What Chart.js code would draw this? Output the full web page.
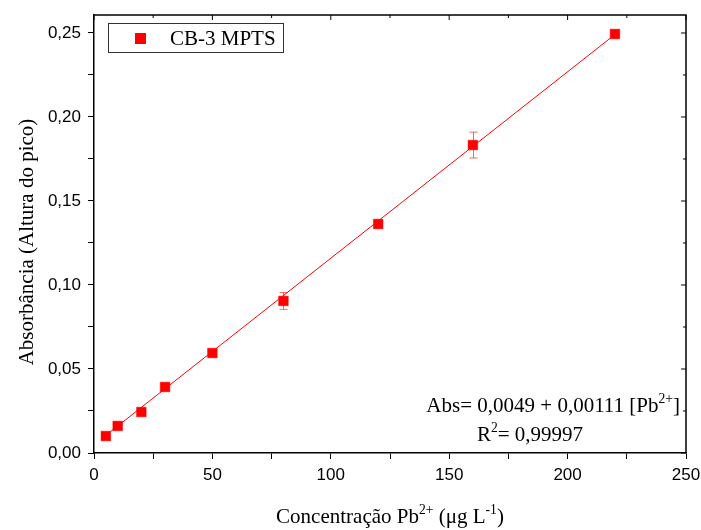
<!DOCTYPE html>
<html>
<head>
<meta charset="utf-8">
<script src="https://cdn.jsdelivr.net/npm/chart.js@4.4.1/dist/chart.umd.min.js"></script>
<style>
  body { margin:0; background:#fff; }
  #wrap { width:701px; height:530px; }
</style>
</head>
<body>
<div id="wrap"><canvas id="calib" width="701" height="530"></canvas></div>
<script>
// calibration data
const concentration = [5, 10, 20, 30, 50, 80, 120, 160, 220];
const absorbance = [0.0101, 0.0161, 0.0244, 0.0393, 0.0595, 0.0905, 0.1363, 0.1833, 0.2494];
const absError = [0.0006, 0.0008, 0.0010, 0.0010, 0.0010, 0.0050, 0.0010, 0.0077, 0.0008];
const fitX = [5, 220];
const fitY = [0.0105, 0.2491];
const seriesName = "CB-3 MPTS";
const equationText = [["Abs= 0,0049 + 0,00111 [Pb", false], ["2+", true], ["]", false]];
const r2Text = [["R", false], ["2", true], ["= 0,99997", false]];
const xTitle = [["Concentração Pb", false], ["2+", true], [" (μg L", false], ["-1", true], [")", false]];
const yTitle = "Absorbância (Altura do pico)";

const RED = "#ff0000";
const SERIF = "'Liberation Serif', 'Times New Roman', serif";
const SANS = "'Liberation Sans', Arial, sans-serif";
const TXT = 21;

// text with superscript pieces
function richWidth(ctx, parts, size) {
  let w = 0;
  parts.forEach(([t, sup]) => {
    ctx.font = (sup ? size * 0.65 : size) + "px " + SERIF;
    w += ctx.measureText(t).width;
  });
  return w;
}
function drawRich(ctx, parts, x, y, size, align) {
  let w = richWidth(ctx, parts, size);
  let cx = align === "right" ? x - w : align === "center" ? x - w / 2 : x;
  ctx.textAlign = "left";
  ctx.textBaseline = "alphabetic";
  parts.forEach(([t, sup]) => {
    ctx.font = (sup ? size * 0.65 : size) + "px " + SERIF;
    ctx.fillText(t, cx, sup ? y - size * 0.45 : y);
    cx += ctx.measureText(t).width;
  });
}

const decorPlugin = {
  id: "decor",
  beforeDatasetsDraw(chart) {
    // error bars
    const ctx = chart.ctx, xs = chart.scales.x, ys = chart.scales.y;
    ctx.save();
    ctx.strokeStyle = "rgba(255,0,0,0.6)";
    ctx.lineWidth = 1;
    concentration.forEach((c, i) => {
      const px = Math.round(xs.getPixelForValue(c)) + 0.5;
      const top = ys.getPixelForValue(absorbance[i] + absError[i]);
      const bot = ys.getPixelForValue(absorbance[i] - absError[i]);
      ctx.beginPath();
      ctx.moveTo(px, top); ctx.lineTo(px, bot);
      ctx.moveTo(px - 4, top); ctx.lineTo(px + 4, top);
      ctx.moveTo(px - 4, bot); ctx.lineTo(px + 4, bot);
      ctx.stroke();
    });
    ctx.restore();
  },
  afterDraw(chart) {
    const ctx = chart.ctx, a = chart.chartArea;
    const xs = chart.scales.x, ys = chart.scales.y;
    ctx.save();
    // frame on top and right with inward ticks
    ctx.strokeStyle = "#000";
    ctx.lineWidth = 1.5;
    ctx.beginPath();
    ctx.moveTo(a.left, a.top); ctx.lineTo(a.right, a.top); ctx.lineTo(a.right, a.bottom);
    ctx.stroke();
    ctx.lineWidth = 1;
    ctx.beginPath();
    xs.ticks.forEach(t => {
      const px = xs.getPixelForValue(t.value);
      const len = t.value % 50 === 0 ? 5 : 3;
      ctx.moveTo(px, a.top); ctx.lineTo(px, a.top + len);
    });
    ys.ticks.forEach(t => {
      const py = ys.getPixelForValue(t.value);
      const major = Math.abs(Math.round(t.value * 20) - t.value * 20) < 1e-6;
      const len = major ? 5 : 3;
      ctx.moveTo(a.right, py); ctx.lineTo(a.right - len, py);
    });
    ctx.stroke();

    // legend box
    ctx.fillStyle = "#fff";
    ctx.fillRect(108, 23, 175, 29);
    ctx.strokeStyle = "#333";
    ctx.lineWidth = 1;
    ctx.strokeRect(108.5, 23.5, 175, 29);
    ctx.fillStyle = RED;
    ctx.fillRect(135, 33, 11, 11);
    ctx.fillStyle = "#000";
    ctx.font = TXT + "px " + SERIF;
    ctx.textAlign = "left";
    ctx.textBaseline = "alphabetic";
    ctx.fillText(chart.data.datasets[0].label, 170, 45);

    // equation and R2
    drawRich(ctx, equationText, 680, 412, TXT, "right");
    drawRich(ctx, r2Text, 530, 441, TXT, "center");

    // axis titles
    drawRich(ctx, xTitle, 390, 523, TXT, "center");
    ctx.translate(33, (a.top + a.bottom) / 2 + 8);
    ctx.rotate(-Math.PI / 2);
    ctx.font = TXT + "px " + SERIF;
    ctx.textAlign = "center";
    ctx.textBaseline = "alphabetic";
    ctx.fillText(yTitle, 0, 0);
    ctx.restore();
  }
};

new Chart(document.getElementById("calib"), {
  type: "scatter",
  data: {
    datasets: [
      {
        label: seriesName,
        data: concentration.map((c, i) => ({ x: c, y: absorbance[i] })),
        pointStyle: "rect",
        pointRadius: 6.8,
        borderWidth: 0.5,
        backgroundColor: RED,
        borderColor: RED,
        showLine: false,
        order: 0
      },
      {
        label: "fit",
        type: "line",
        data: fitX.map((x, i) => ({ x: x, y: fitY[i] })),
        borderColor: RED,
        borderWidth: 1,
        pointRadius: 0,
        fill: false,
        order: 1
      }
    ]
  },
  options: {
    responsive: false,
    animation: false,
    layout: { padding: { top: 15, right: 15, left: 0, bottom: 0 } },
    plugins: { legend: { display: false }, tooltip: { enabled: false } },
    scales: {
      x: {
        type: "linear",
        min: 0, max: 250,
        afterFit: s => { s.height = 77; s.paddingLeft = 0; s.paddingRight = 0; },
        grid: { drawOnChartArea: false, tickLength: 6, color: "#000",
                tickColor: "#000" },
        border: { color: "#000", width: 1.5 },
        ticks: {
          stepSize: 25,
          padding: 6,
          color: "#000",
          font: { family: SANS, size: 17 },
          maxRotation: 0,
          autoSkip: false,
          callback: v => (v % 50 === 0 ? String(v) : "")
        }
      },
      y: {
        min: 0, max: 0.2607,
        afterFit: s => { s.width = 94; s.paddingTop = 0; s.paddingBottom = 0; },
        afterBuildTicks: s => {
          s.ticks = s.ticks.filter(t => Math.abs(Math.round(t.value * 40) - t.value * 40) < 1e-6);
        },
        grid: { drawOnChartArea: false, tickLength: 6, color: "#000", tickColor: "#000" },
        border: { color: "#000", width: 1.5 },
        ticks: {
          stepSize: 0.025,
          includeBounds: false,
          autoSkip: false,
          padding: 7,
          color: "#000",
          font: { family: SANS, size: 17 },
          callback: v => {
            const k = Math.round(v * 40);
            return k % 2 === 0 ? (k / 40).toFixed(2).replace(".", ",") : "";
          }
        }
      }
    }
  },
  plugins: [decorPlugin]
});
</script>
</body>
</html>
